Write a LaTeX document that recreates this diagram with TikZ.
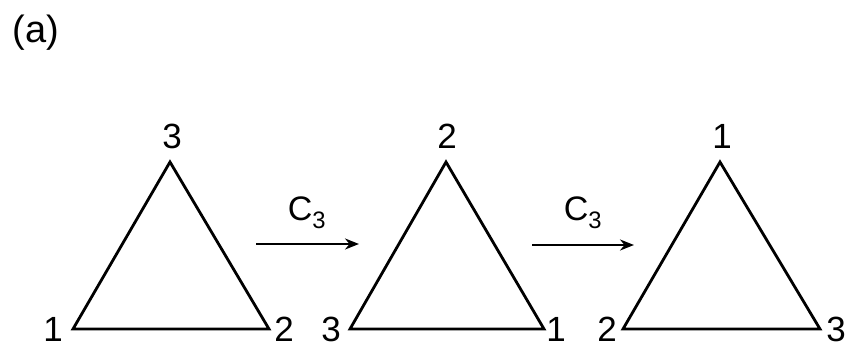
\documentclass[tikz,border=0pt]{standalone}
\usepackage{fontspec}
\setmainfont{Liberation Sans}
\usetikzlibrary{arrows.meta}
\begin{document}
\begin{tikzpicture}[x=1pt,y=-1pt,
  tri/.style={line width=2.8pt,line join=miter},
  lbl/.style={font=\fontsize{35}{35}\selectfont,inner sep=0pt},
  oparrow/.style={line width=2.2pt,-{Stealth[length=14pt,width=11pt]}},
  oplbl/.style={font=\fontsize{34}{34}\selectfont,inner sep=0pt}]
\useasboundingbox (0,0) rectangle (850,348);
\node[font=\fontsize{38}{38}\selectfont,inner sep=0pt] (tag) at (36,33) {(a)};
% triangle 1
\coordinate (a1) at (170,162);
\coordinate (b1) at (73,329);
\coordinate (c1) at (269,329);
\draw[tri] (a1) -- (b1) -- (c1) -- cycle;
\node[lbl] (la1) at (172,136) {3};
\node[lbl] (lb1) at (53,329) {1};
\node[lbl] (lc1) at (284,329) {2};
% triangle 2
\coordinate (a2) at (446,162);
\coordinate (b2) at (350,329);
\coordinate (c2) at (544,329);
\draw[tri] (a2) -- (b2) -- (c2) -- cycle;
\node[lbl] (la2) at (447,136) {2};
\node[lbl] (lb2) at (331,329) {3};
\node[lbl] (lc2) at (556,329) {1};
% triangle 3
\coordinate (a3) at (720,162);
\coordinate (b3) at (623,329);
\coordinate (c3) at (820,329);
\draw[tri] (a3) -- (b3) -- (c3) -- cycle;
\node[lbl] (la3) at (722,136) {1};
\node[lbl] (lb3) at (607,329) {2};
\node[lbl] (lc3) at (836,329) {3};
% arrows
\coordinate (s1) at (256,244);
\coordinate (e1) at (359,244);
\draw[oparrow] (s1) -- (e1);
\node[oplbl] (op1) at (307,213) {C$_{\mathrm{3}}$};
\coordinate (s2) at (532,245);
\coordinate (e2) at (634,245);
\draw[oparrow] (s2) -- (e2);
\node[oplbl] (op2) at (583,213) {C$_{\mathrm{3}}$};
\end{tikzpicture}
\end{document}
